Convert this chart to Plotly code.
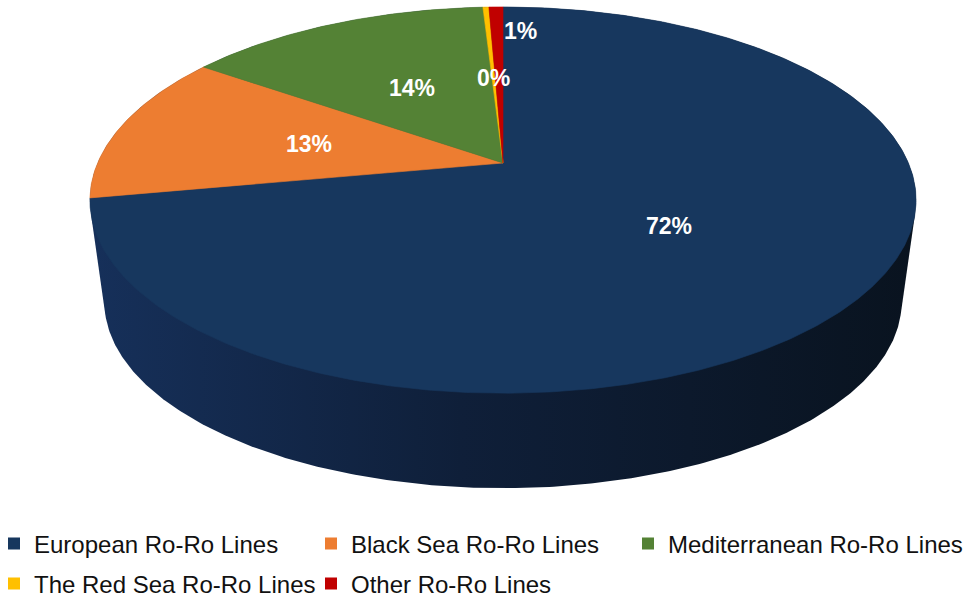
import numpy as np
import plotly.graph_objects as go

# ---- data ----
categories = ["European Ro-Ro Lines", "Black Sea Ro-Ro Lines", "Mediterranean Ro-Ro Lines",
              "The Red Sea Ro-Ro Lines", "Other Ro-Ro Lines"]
shares = [72.1, 12.6, 14.36, 0.28, 0.66]

# ---- styles ----
colors = ["#17375E", "#ED7D31", "#548235", "#FFC000", "#C00000"]
label_radius = [0.5, 0.5, 0.5, 0.5, 0.82]
label_xshift = [0, 0, 0, 0, 23]
legend_slot = ["legend", "legend", "legend3", "legend2", "legend2"]
FONT = "Liberation Sans, Arial, sans-serif"

# ---- 3D pie geometry (pixel space of the page) ----
W, H = 968, 601
CX, CY = 503, 163          # centre of top face
A, B = 405.4, 186          # semi axes of top face
P = 0.192                  # perspective factor
S_BOT, CY_BOT = 0.965, 266 # bottom face scale and centre


def proj(theta_deg, r=1.0, cy=CY, s=1.0):
    t = np.radians(theta_deg)
    X = r * np.sin(t)
    Y = -r * np.cos(t)
    d = 1 - P * Y
    return CX + s * A * X / d, cy + s * B * Y / d


def hull(pts):
    pts = sorted(set(pts))
    def cross(o, a, b):
        return (a[0] - o[0]) * (b[1] - o[1]) - (a[1] - o[1]) * (b[0] - o[0])
    lower, upper = [], []
    for p in pts:
        while len(lower) >= 2 and cross(lower[-2], lower[-1], p) <= 0:
            lower.pop()
        lower.append(p)
    for p in reversed(pts):
        while len(upper) >= 2 and cross(upper[-2], upper[-1], p) <= 0:
            upper.pop()
        upper.append(p)
    return lower[:-1] + upper[:-1]


fig = go.Figure()

# side wall (cylinder silhouette), drawn first
ang = np.linspace(0, 360, 721)
tx, ty = proj(ang)
bx, by = proj(ang, cy=CY_BOT, s=S_BOT)
pts = [(round(float(a), 3), round(float(b), 3)) for a, b in zip(tx, ty)] + \
      [(round(float(a), 3), round(float(b), 3)) for a, b in zip(bx, by)]
hp = hull(pts)
hx = [p[0] for p in hp] + [hp[0][0]]
hy = [p[1] for p in hp] + [hp[0][1]]
fig.add_trace(go.Scatter(
    x=hx, y=hy, mode="lines", fill="toself",
    line=dict(width=0, color="#0e1c33"),
    fillgradient=dict(type="horizontal",
                      colorscale=[[0, "#16305A"], [0.45, "#0F1F39"], [1, "#09131F"]]),
    hoverinfo="skip", showlegend=False))

# top face slices
total = sum(shares)
cum = np.concatenate([[0], np.cumsum(shares)]) / total * 360
for i, (cat, col) in enumerate(zip(categories, colors)):
    span = cum[i + 1] - cum[i]
    th = np.linspace(cum[i], cum[i + 1], max(3, int(span * 2) + 2))
    x, y = proj(th)
    fig.add_trace(go.Scatter(
        x=[CX] + list(x) + [CX], y=[CY] + list(y) + [CY],
        mode="lines", fill="toself", fillcolor=col,
        line=dict(width=0.6, color=col),
        hoverinfo="skip", showlegend=False))

# data labels
for i in range(len(shares)):
    mid = (cum[i] + cum[i + 1]) / 2
    lx, ly = proj(mid, r=label_radius[i])
    fig.add_annotation(x=float(lx), y=float(ly), text=f"{round(shares[i] / total * 100)}%",
                       showarrow=False, xshift=label_xshift[i],
                       font=dict(family=FONT, size=23, color="white", weight="bold"))

# legend entries
for i, (cat, col) in enumerate(zip(categories, colors)):
    fig.add_trace(go.Scatter(
        x=[None], y=[None], mode="markers", name=cat,
        marker=dict(symbol="square", size=12, color=col),
        legend=legend_slot[i]))

leg_common = dict(orientation="h", xanchor="left", yanchor="middle",
                  entrywidthmode="pixels", indentation=-6,
                  font=dict(family=FONT, size=24, color="#111111"),
                  bgcolor="rgba(0,0,0,0)", itemclick=False, itemdoubleclick=False)

fig.update_layout(
    width=W, height=H,
    margin=dict(l=0, r=0, t=0, b=0, autoexpand=False),
    paper_bgcolor="white", plot_bgcolor="white",
    xaxis=dict(range=[0, W], visible=False, fixedrange=True),
    yaxis=dict(range=[H, 0], visible=False, fixedrange=True),
    legend=dict(x=0, y=1 - 544 / H, entrywidth=278, **leg_common),
    legend2=dict(x=0, y=1 - 584 / H, entrywidth=278, **leg_common),
    legend3=dict(x=634 / W, y=1 - 544 / H, entrywidth=0, **leg_common),
    showlegend=True,
)

fig.write_html("out.html")
